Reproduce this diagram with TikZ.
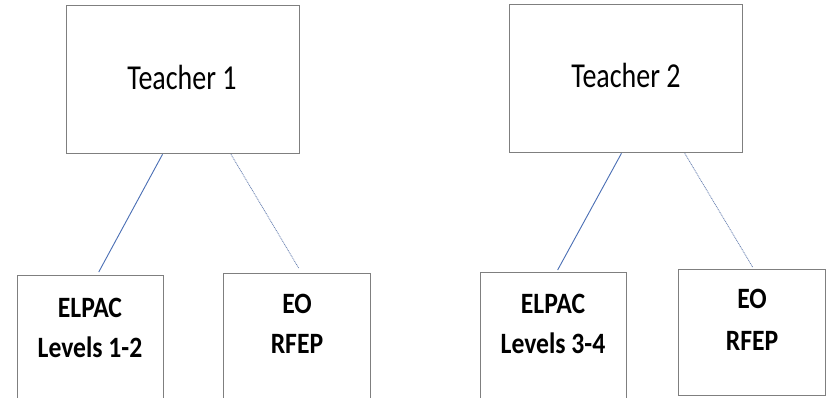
\documentclass[tikz,border=0pt]{standalone}
\usepackage{fontspec}
\setmainfont{Carlito}
\usetikzlibrary{calc}
\definecolor{boxgray}{HTML}{7F7F7F}
\definecolor{linkblue}{HTML}{4A6FB5}
\definecolor{dotblue}{HTML}{6F86B5}
\tikzset{
  box/.style={draw=boxgray, line width=1.3pt, rectangle, inner sep=0pt, anchor=north west},
  titletext/.style={anchor=base, inner sep=0pt, font=\fontsize{35}{35}\selectfont},
  itemtext/.style={anchor=base, inner sep=0pt, font=\bfseries\fontsize{29.5}{29.5}\selectfont},
  solidlink/.style={draw=linkblue, line width=0.9pt},
  dotlink/.style={draw=dotblue, line width=0.8pt, dash pattern=on 1pt off 0.8pt},
}
\newcommand{\narrow}[2]{\scalebox{#1}[1]{#2}}
\begin{document}
\begin{tikzpicture}[x=1pt, y=-1pt]
  \useasboundingbox[fill=white] (0,0) rectangle (828,397);

  % ---- left group
  \node[box, minimum width=233pt, minimum height=148pt] (t1) at (66,5) {};
  \node[box, minimum width=146pt, minimum height=140pt] (e1) at (17,275) {};
  \node[box, minimum width=147pt, minimum height=140pt] (o1) at (223,273) {};
  \node[titletext] (t1lbl) at (182,89) {\narrow{0.8}{Teacher 1}};
  \node[itemtext] (e1a) at (90,317) {\narrow{0.87}{ELPAC}};
  \node[itemtext] (e1b) at (90,357) {\narrow{0.87}{Levels 1-2}};
  \node[itemtext] (o1a) at (297,313) {\narrow{0.87}{EO}};
  \node[itemtext] (o1b) at (297,353) {\narrow{0.87}{RFEP}};
  \draw[solidlink] ($(t1.south west)!0.412!(t1.south east)$) -- ($(e1.north west)!0.555!(e1.north east)+(0,-3)$);
  \draw[dotlink] ($(t1.south west)!0.704!(t1.south east)$) -- ($(o1.north west)!0.51!(o1.north east)+(0,-5)$);

  % ---- right group
  \node[box, minimum width=233pt, minimum height=148pt] (t2) at (509,4) {};
  \node[box, minimum width=146pt, minimum height=140pt] (e2) at (480,272) {};
  \node[box, minimum width=147pt, minimum height=126pt] (o2) at (678,269) {};
  \node[titletext] (t2lbl) at (626,87) {\narrow{0.8}{Teacher 2}};
  \node[itemtext] (e2a) at (553,313) {\narrow{0.87}{ELPAC}};
  \node[itemtext] (e2b) at (553,353) {\narrow{0.87}{Levels 3-4}};
  \node[itemtext] (o2a) at (752,308) {\narrow{0.87}{EO}};
  \node[itemtext] (o2b) at (752,350) {\narrow{0.87}{RFEP}};
  \draw[solidlink] ($(t2.south west)!0.48!(t2.south east)$) -- ($(e2.north west)!0.527!(e2.north east)+(0,-2)$);
  \draw[dotlink] ($(t2.south west)!0.75!(t2.south east)$) -- ($(o2.north west)!0.503!(o2.north east)+(0,-2)$);
\end{tikzpicture}
\end{document}
